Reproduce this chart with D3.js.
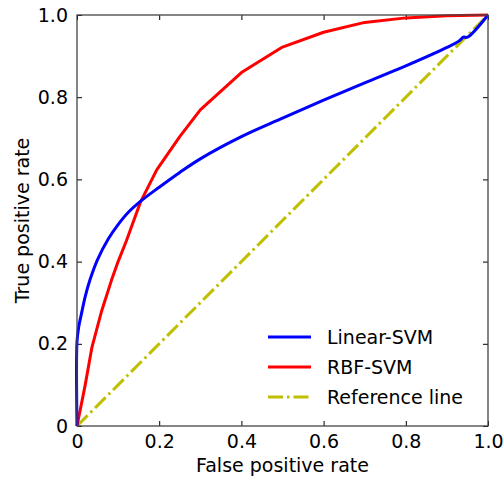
<!DOCTYPE html>
<html>
<head>
<meta charset="utf-8">
<script src="https://cdn.jsdelivr.net/npm/d3@7"></script>
<style>
  body { margin: 0; background: #fff; }
  text { font-family: "DejaVu Sans", sans-serif; fill: #000; }
</style>
</head>
<body>
<svg id="roc" width="504" height="481"></svg>
<script>
// ROC curve samples
const linearFpr = [0, 0, 0.004, 0.011, 0.02, 0.032, 0.05, 0.076, 0.1, 0.125, 0.155, 0.2, 0.25, 0.3, 0.4, 0.5, 0.6, 0.7, 0.8, 0.9, 0.93, 0.94, 0.95, 1]
const linearTpr = [0, 0.205, 0.24, 0.274, 0.315, 0.357, 0.405, 0.455, 0.49, 0.52, 0.547, 0.581, 0.617, 0.65, 0.704, 0.749, 0.793, 0.835, 0.876, 0.921, 0.937, 0.946, 0.946, 1]

const rbfFpr = [0, 0.02, 0.036, 0.06, 0.084, 0.1, 0.12, 0.155, 0.194, 0.25, 0.3, 0.4, 0.5, 0.6, 0.7, 0.8, 0.9, 1]
const rbfTpr = [0, 0.1, 0.19, 0.28, 0.355, 0.4, 0.45, 0.546, 0.623, 0.704, 0.769, 0.86, 0.922, 0.958, 0.982, 0.993, 0.998, 1]

const refFpr = [0, 1]
const refTpr = [0, 1]

const tickValues = [0, 0.2, 0.4, 0.6, 0.8, 1.0]
const tickLabels = ['0', '0.2', '0.4', '0.6', '0.8', '1.0']

const seriesNames = ['Linear-SVM', 'RBF-SVM', 'Reference line']

const margin = { top: 15, right: 16, bottom: 55, left: 77 }
const width = 504 - (margin.left + margin.right)
const height = 481 - (margin.top + margin.bottom)

const svg = d3.select('#roc')

const xScale = d3.scaleLinear()
  .domain([0, 1])
  .range([margin.left, margin.left + width])

const yScale = d3.scaleLinear()
  .domain([0, 1])
  .range([margin.top + height, margin.top])

const toPoints = (xs, ys) => xs.map((x, i) => [x, ys[i]])

const series = [
  { name: seriesNames[0], points: toPoints(linearFpr, linearTpr), color: '#0000ff', dash: null, curve: d3.curveCatmullRom.alpha(0.5) },
  { name: seriesNames[1], points: toPoints(rbfFpr, rbfTpr), color: '#ff0000', dash: null, curve: d3.curveLinear },
  { name: seriesNames[2], points: toPoints(refFpr, refTpr), color: '#bfbf00', dash: '15,4,2.5,4', curve: d3.curveLinear }
]

const lineFor = (d) => d3.line()
  .x(p => xScale(p[0]))
  .y(p => yScale(p[1]))
  .curve(d.curve)(d.points)

const fmt = d => tickLabels[tickValues.indexOf(d)]

// axes with inward ticks on all four sides
const axisGroup = svg.append('g')

axisGroup.append('g')
  .attr('transform', `translate(0, ${margin.top + height})`)
  .call(d3.axisBottom(xScale).tickValues(tickValues).tickFormat(fmt).tickSizeInner(-5).tickSizeOuter(0).tickPadding(9))

axisGroup.append('g')
  .attr('transform', `translate(${margin.left}, 0)`)
  .call(d3.axisLeft(yScale).tickValues(tickValues).tickFormat(fmt).tickSizeInner(-5).tickSizeOuter(0).tickPadding(9))

axisGroup.append('g')
  .attr('transform', `translate(0, ${margin.top})`)
  .call(d3.axisTop(xScale).tickValues(tickValues).tickFormat('').tickSizeInner(-5).tickSizeOuter(0))

axisGroup.append('g')
  .attr('transform', `translate(${margin.left + width}, 0)`)
  .call(d3.axisRight(yScale).tickValues(tickValues).tickFormat('').tickSizeInner(-5).tickSizeOuter(0))

axisGroup.selectAll('.domain').remove()
axisGroup.selectAll('.tick line').attr('stroke', '#000').attr('stroke-width', 1)
axisGroup.selectAll('.tick text')
  .style('font-family', '"DejaVu Sans", sans-serif')
  .style('font-size', '19px')
  .attr('fill', '#000')

const plot = svg.append('g')

plot.selectAll('path')
  .data(series.slice().reverse())
  .enter()
  .append('path')
  .attr('d', lineFor)
  .attr('fill', 'none')
  .attr('stroke', d => d.color)
  .attr('stroke-width', 3)
  .attr('stroke-dasharray', d => d.dash)
  .attr('stroke-linejoin', 'round')

// frame
svg.append('rect')
  .attr('x', margin.left)
  .attr('y', margin.top)
  .attr('width', width)
  .attr('height', height)
  .attr('fill', 'none')
  .attr('stroke', '#444')
  .attr('stroke-width', 1.3)

// axis titles
svg.append('text')
  .text('False positive rate')
  .attr('x', margin.left + width / 2)
  .attr('y', 472)
  .attr('text-anchor', 'middle')
  .style('font-size', '19px')

svg.append('text')
  .text('True positive rate')
  .attr('transform', `translate(29, ${margin.top + height / 2}) rotate(-90)`)
  .attr('text-anchor', 'middle')
  .style('font-size', '19px')

// legend
const legend = svg.append('g')
  .attr('transform', 'translate(268, 337)')

const rows = legend.selectAll('g')
  .data(series)
  .enter()
  .append('g')
  .attr('transform', (d, i) => `translate(0, ${i * 30})`)

rows.append('line')
  .attr('x1', 0)
  .attr('x2', 43)
  .attr('stroke', d => d.color)
  .attr('stroke-width', 3)
  .attr('stroke-dasharray', d => d.dash)

rows.append('text')
  .text(d => d.name)
  .attr('x', 59)
  .attr('dy', '0.35em')
  .style('font-size', '19px')
</script>
</body>
</html>
